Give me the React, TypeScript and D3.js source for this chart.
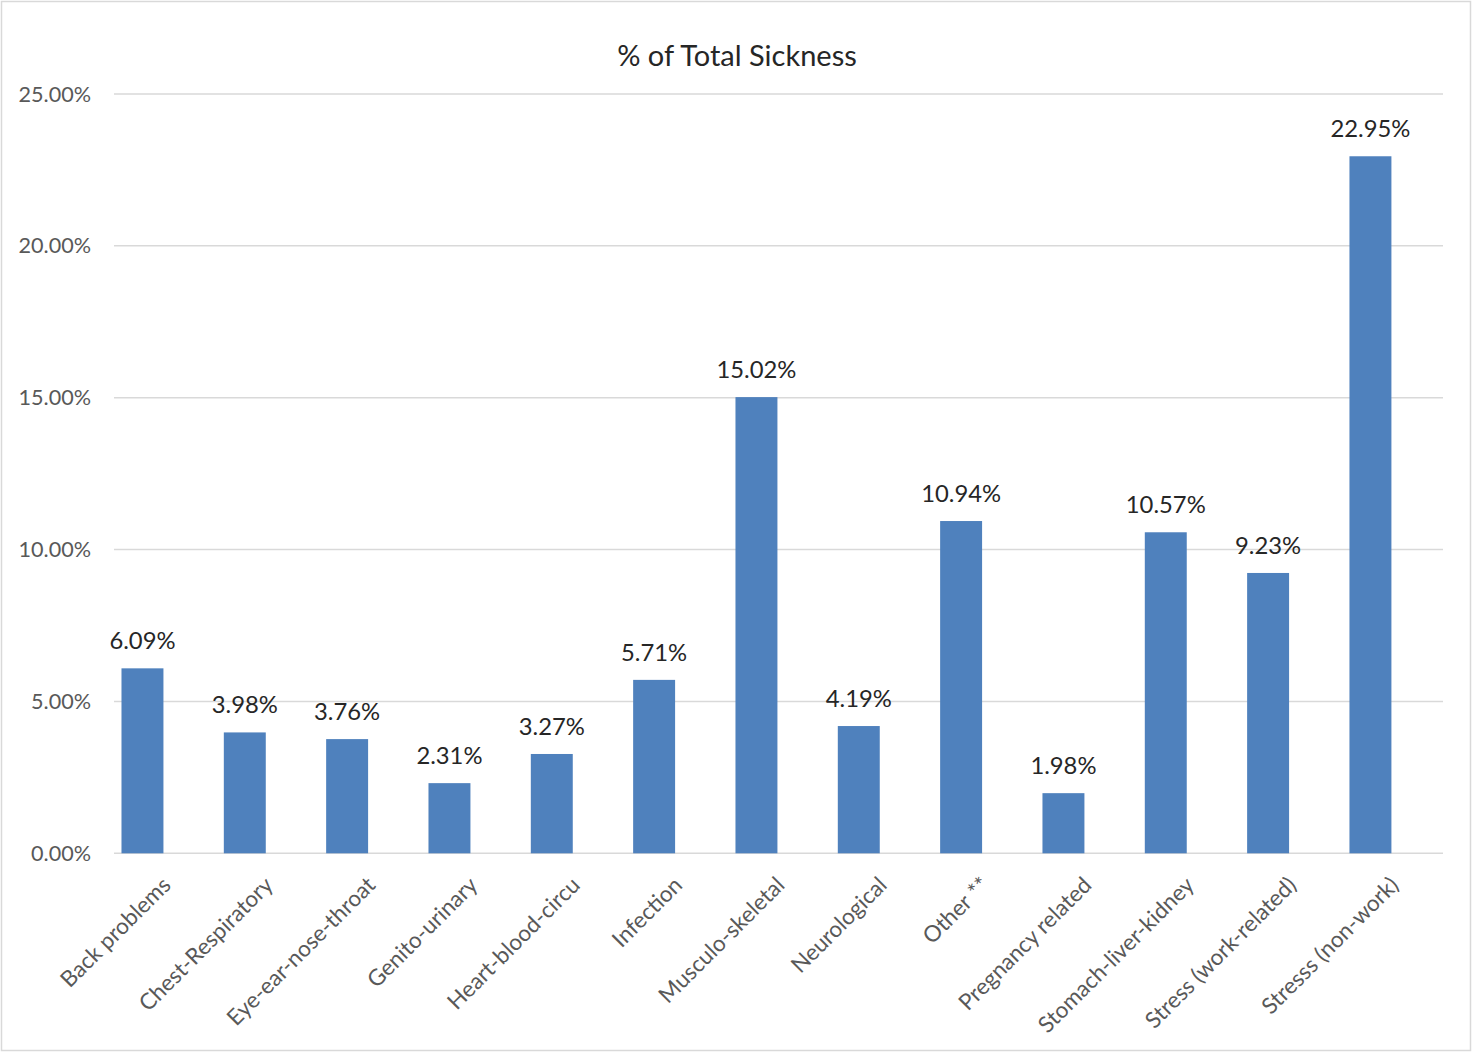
import React from "react";
import * as d3 from "d3";

const categories = [
  "Back problems",
  "Chest-Respiratory",
  "Eye-ear-nose-throat",
  "Genito-urinary",
  "Heart-blood-circu",
  "Infection",
  "Musculo-skeletal",
  "Neurological",
  "Other **",
  "Pregnancy related",
  "Stomach-liver-kidney",
  "Stress (work-related)",
  "Stresss (non-work)",
];
const values = [6.09, 3.98, 3.76, 2.31, 3.27, 5.71, 15.02, 4.19, 10.94, 1.98, 10.57, 9.23, 22.95];
const yTicks = [0, 5, 10, 15, 20, 25];
const title = "% of Total Sickness";

const W = 1473;
const H = 1053;
const FONT = "Lato, 'Open Sans', sans-serif";

export default function App() {
  const x = d3
    .scaleBand<string>()
    .domain(categories)
    .range([91.3, 1421.6])
    .paddingInner(0.59)
    .paddingOuter(0.295);
  const y = d3.scaleLinear().domain([0, 25]).range([853.3, 94]);
  const gridX0 = 114;
  const gridX1 = 1443;
  const fmt = (v: number) => v.toFixed(2) + "%";

  return (
    <svg
      width={W}
      height={H}
      style={{ position: "absolute", left: 0, top: 0, background: "#fff" }}
      fontFamily={FONT}
    >
      <rect x={0} y={0} width={W} height={H} fill="#fff" />
      <rect x={1.5} y={1.5} width={1469} height={1049} fill="none" stroke="#d9d9d9" strokeWidth={1.5} />
      <text x={737} y={66} textAnchor="middle" fontSize={29} fill="#262626">
        {title}
      </text>
      {yTicks.map((t) => (
        <g key={t}>
          <line x1={gridX0} x2={gridX1} y1={y(t)} y2={y(t)} stroke="#d9d9d9" strokeWidth={1.5} />
          <text x={91} y={y(t)} dy="0.35em" textAnchor="end" fontSize={21.6} fill="#595959">
            {fmt(t)}
          </text>
        </g>
      ))}
      {categories.map((c, i) => {
        const bx = x(c)!;
        const bw = x.bandwidth();
        const cx = bx + bw / 2;
        return (
          <g key={c}>
            <rect x={bx} y={y(values[i])} width={bw} height={y(0) - y(values[i])} fill="#4f81bd" />
            <text x={cx} y={y(values[i]) - 19} textAnchor="middle" fontSize={23.8} fill="#262626">
              {fmt(values[i])}
            </text>
            <text
              transform={`translate(${cx + 24},881) rotate(-45)`}
              dy="0.35em"
              textAnchor="end"
              fontSize={22.5}
              fill="#595959"
            >
              {c}
            </text>
          </g>
        );
      })}
    </svg>
  );
}
